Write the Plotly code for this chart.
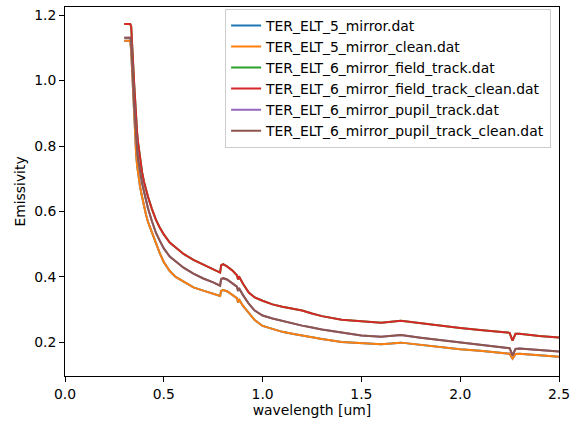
import plotly.graph_objects as go

wavelength = [0.300, 0.330, 0.335, 0.340, 0.345, 0.350, 0.355, 0.360, 0.365, 0.370,
              0.380, 0.390, 0.400, 0.410, 0.420, 0.440, 0.460, 0.480, 0.500, 0.530,
              0.560, 0.600, 0.650, 0.700, 0.750, 0.785, 0.790, 0.800, 0.820, 0.850,
              0.870, 0.876, 0.880, 0.900, 0.930, 0.960, 1.000, 1.050, 1.100, 1.150,
              1.200, 1.250, 1.300, 1.400, 1.500, 1.600, 1.700, 1.800, 1.900, 2.000,
              2.100, 2.200, 2.250, 2.265, 2.280, 2.300, 2.400, 2.500]

mirror5_clean = [1.122, 1.122, 1.09, 1.02, 0.95, 0.88, 0.82, 0.775, 0.74, 0.715,
                 0.675, 0.645, 0.615, 0.59, 0.568, 0.535, 0.505, 0.472, 0.445, 0.418,
                 0.400, 0.385, 0.368, 0.358, 0.349, 0.342, 0.357, 0.360, 0.356, 0.345,
                 0.335, 0.322, 0.332, 0.312, 0.290, 0.268, 0.250, 0.240, 0.232, 0.226,
                 0.220, 0.215, 0.210, 0.201, 0.197, 0.194, 0.199, 0.192, 0.184, 0.179,
                 0.174, 0.168, 0.165, 0.150, 0.164, 0.165, 0.160, 0.156]
mirror5 = list(mirror5_clean)

field_clean = [1.173, 1.173, 1.165, 1.12, 1.05, 0.99, 0.93, 0.875, 0.84, 0.81,
               0.76, 0.72, 0.69, 0.665, 0.645, 0.607, 0.575, 0.55, 0.53, 0.505,
               0.49, 0.47, 0.452, 0.437, 0.423, 0.413, 0.435, 0.439, 0.432, 0.418,
               0.405, 0.392, 0.402, 0.38, 0.352, 0.337, 0.327, 0.316, 0.309, 0.303,
               0.297, 0.288, 0.28, 0.269, 0.264, 0.260, 0.266, 0.258, 0.251, 0.244,
               0.238, 0.233, 0.229, 0.205, 0.226, 0.226, 0.219, 0.215]
field = list(field_clean)

pupil_clean = [1.131, 1.131, 1.12, 1.07, 1.00, 0.93, 0.87, 0.825, 0.79, 0.76,
               0.715, 0.687, 0.66, 0.633, 0.61, 0.57, 0.535, 0.51, 0.487, 0.462,
               0.448, 0.428, 0.41, 0.395, 0.383, 0.373, 0.393, 0.396, 0.392, 0.38,
               0.37, 0.357, 0.366, 0.345, 0.318, 0.297, 0.282, 0.273, 0.265, 0.258,
               0.251, 0.245, 0.239, 0.230, 0.221, 0.217, 0.222, 0.214, 0.207, 0.200,
               0.193, 0.187, 0.182, 0.160, 0.180, 0.181, 0.176, 0.172]
pupil = list(pupil_clean)

names = ["TER_ELT_5_mirror.dat", "TER_ELT_5_mirror_clean.dat",
         "TER_ELT_6_mirror_field_track.dat", "TER_ELT_6_mirror_field_track_clean.dat",
         "TER_ELT_6_mirror_pupil_track.dat", "TER_ELT_6_mirror_pupil_track_clean.dat"]
series = [mirror5, mirror5_clean, field, field_clean, pupil, pupil_clean]
colors = ["#1f77b4", "#ff7f0e", "#2ca02c", "#d62728", "#9467bd", "#8c564b"]

font = "DejaVu Sans"
fs = 13.9
fig = go.Figure()
for i, (n, s, c) in enumerate(zip(names, series, colors)):
    fig.add_trace(go.Scatter(x=wavelength, y=s, mode="lines", name=n,
                             line=dict(color=c, width=2), legendgroup=str(i)))

axis_common = dict(showline=True, linecolor="black", linewidth=1, mirror=True,
                   ticks="outside", ticklen=5, tickwidth=1, tickcolor="black",
                   showgrid=False, zeroline=False, tickformat=".1f",
                   tickfont=dict(family=font, size=fs, color="black"))
fig.update_layout(
    width=576, height=423,
    margin=dict(l=65, r=14, t=6, b=47),
    paper_bgcolor="white", plot_bgcolor="white",
    font=dict(family=font, size=fs, color="black"),
    xaxis=dict(range=[0, 2.5], dtick=0.5,
               title=dict(text="wavelength [um]", font=dict(family=font, size=fs), standoff=4),
               **axis_common),
    yaxis=dict(range=[0.097, 1.225], dtick=0.2, tick0=0.2,
               title=dict(text="Emissivity", font=dict(family=font, size=fs), standoff=5),
               **axis_common),
    legend=dict(x=0.984, xanchor="right", y=0.995, yanchor="top",
                bgcolor="rgba(255,255,255,0.8)", bordercolor="#cccccc", borderwidth=1,
                font=dict(family=font, size=fs), tracegroupgap=0, traceorder="grouped",
                itemwidth=30),
    showlegend=True,
)
fig.write_html("out.html", config={"displayModeBar": False},
               post_script="document.body.style.margin='0';")
